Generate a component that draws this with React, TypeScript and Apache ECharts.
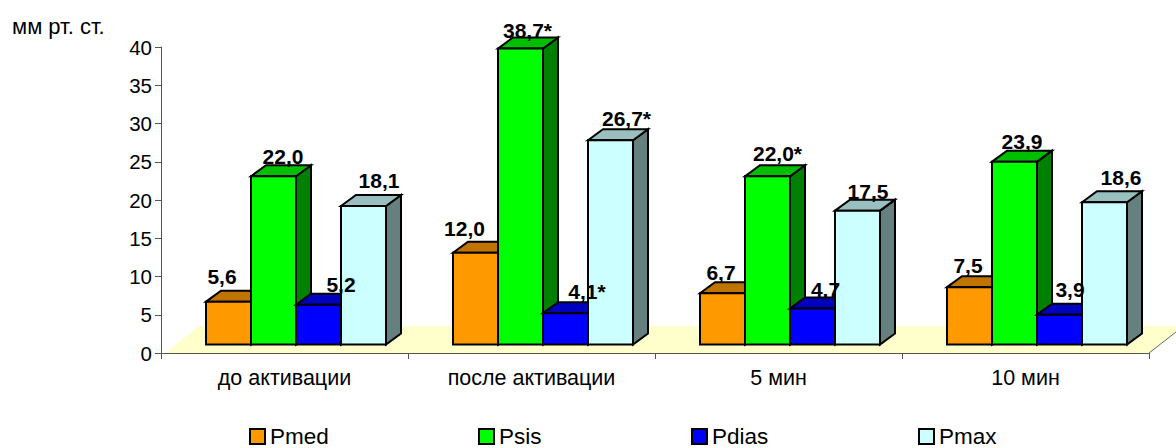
import React, { useEffect, useRef } from "react";
import * as echarts from "echarts";

const categories = ["до активации", "после активации", "5 мин", "10 мин"];
const yTicks = { min: 0, max: 40, interval: 5 };
const unitLabel = "мм рт. ст.";
const pmed = [5.6, 12.0, 6.7, 7.5];
const psis = [22.0, 38.7, 22.0, 23.9];
const pdias = [5.2, 4.1, 4.7, 3.9];
const pmax = [18.1, 26.7, 17.5, 18.6];
const pmedLabels = ["5,6", "12,0", "6,7", "7,5"];
const psisLabels = ["22,0", "38,7*", "22,0*", "23,9"];
const pdiasLabels = ["5,2", "4,1*", "4,7", "3,9"];
const pmaxLabels = ["18,1", "26,7*", "17,5", "18,6"];

// manual label nudges relative to the bar's front-top centre
const pmedNudge = [[-6.5, -24], [-11, -23], [-1.5, -20], [-1.5, -21]];
const psisNudge = [[9.5, -19], [7, -17], [10, -22], [7.5, -19]];
const pdiasNudge = [[22.5, -19], [21.5, -21], [13, -18], [10.5, -23.7]];
const pmaxNudge = [[15.5, -25], [16, -21], [10.5, -18.6], [16.5, -24]];

const seriesDefs = [
  { name: "Pmed", values: pmed, labels: pmedLabels, nudge: pmedNudge, front: "#FF9900", top: "#BF7300", side: "#7F4C00", slot: 0, legendLeft: 249 },
  { name: "Psis", values: psis, labels: psisLabels, nudge: psisNudge, front: "#00FF00", top: "#00BF00", side: "#008000", slot: 1, legendLeft: 478 },
  { name: "Pdias", values: pdias, labels: pdiasLabels, nudge: pdiasNudge, front: "#0000FF", top: "#0000BF", side: "#000080", slot: 2, legendLeft: 691 },
  { name: "Pmax", values: pmax, labels: pmaxLabels, nudge: pmaxNudge, front: "#CCFFFF", top: "#99BFBF", side: "#668080", slot: 3, legendLeft: 918 },
];

const FONT = '"Liberation Sans", Arial, sans-serif';
const DEPTH_X = 15;
const DEPTH_Y = 11;
const BASE_LIFT = 8.5;
const LABEL_LIFT = 1;

function barRenderer(def: (typeof seriesDefs)[number]) {
  return (params: any, api: any) => {
    const idx = api.value(0);
    const val = api.value(1);
    const band = api.size([1, 0])[0];
    const barW = (band * 45) / 247;
    const centre = api.coord([idx, 0]);
    const x0 = centre[0] - band / 2 + barW * (1 + def.slot);
    const x1 = x0 + barW;
    const yBase = centre[1] - BASE_LIFT;
    const yTop = api.coord([idx, val])[1] - BASE_LIFT;
    const stroke = { stroke: "#000", lineWidth: 2, lineJoin: "miter" };
    const n = def.nudge[params.dataIndex];
    return {
      type: "group",
      children: [
        {
          type: "polygon",
          shape: { points: [[x1, yTop], [x1 + DEPTH_X, yTop - DEPTH_Y], [x1 + DEPTH_X, yBase - DEPTH_Y], [x1, yBase]] },
          style: { fill: def.side, ...stroke },
        },
        {
          type: "polygon",
          shape: { points: [[x0, yTop], [x0 + DEPTH_X, yTop - DEPTH_Y], [x1 + DEPTH_X, yTop - DEPTH_Y], [x1, yTop]] },
          style: { fill: def.top, ...stroke },
        },
        {
          type: "rect",
          shape: { x: x0, y: yTop, width: barW, height: yBase - yTop },
          style: { fill: def.front, ...stroke },
        },
        {
          type: "text",
          z2: 100,
          style: {
            text: def.labels[params.dataIndex],
            x: (x0 + x1) / 2 + n[0],
            y: yTop + n[1] - LABEL_LIFT,
            textAlign: "center",
            textVerticalAlign: "middle",
            font: `bold 21px ${FONT}`,
            fill: "#000",
          },
        },
      ],
    };
  };
}

function floorRenderer(params: any, api: any) {
  const c = params.coordSys;
  const y0 = c.y + c.height;
  const x1 = c.x + c.width;
  return {
    type: "group",
    silent: true,
    children: [
      {
        type: "polygon",
        shape: { points: [[c.x + 4, y0], [c.x + 38, y0 - 27], [x1 + 27, y0 - 27], [x1 + 27, y0 - 21], [x1, y0]] },
        style: { fill: "#FFFFCC" },
      },
      {
        type: "line",
        shape: { x1: x1, y1: y0, x2: x1 + 27, y2: y0 - 21 },
        style: { stroke: "#666", lineWidth: 1 },
      },
    ],
  };
}

export default function App() {
  const ref = useRef<HTMLDivElement>(null);
  useEffect(() => {
    const chart = echarts.init(ref.current!, undefined, { renderer: "svg" });
    chart.setOption({
      animation: false,
      backgroundColor: "#fff",
      grid: { left: 161, right: 27, top: 47, height: 306, containLabel: false },
      xAxis: {
        type: "category",
        data: categories,
        axisLine: { lineStyle: { color: "#555", width: 1 } },
        axisTick: { show: true, length: 6, lineStyle: { color: "#555" } },
        axisLabel: { fontFamily: FONT, fontSize: 21.5, color: "#000", margin: 14 },
      },
      yAxis: {
        type: "value",
        min: yTicks.min,
        max: yTicks.max,
        interval: yTicks.interval,
        splitLine: { show: false },
        axisLine: { show: true, lineStyle: { color: "#555", width: 1 } },
        axisTick: { show: true, length: 6, lineStyle: { color: "#555" } },
        axisLabel: { fontFamily: FONT, fontSize: 20.5, color: "#000", margin: 9 },
      },
      legend: seriesDefs.map((d) => ({
        data: [d.name],
        left: d.legendLeft,
        top: 425,
        padding: 0,
        itemWidth: 15,
        itemHeight: 15,
        itemGap: 0,
        icon: "rect",
        selectedMode: false,
        itemStyle: { color: d.front, borderColor: "#000", borderWidth: 2 },
        textStyle: { fontFamily: FONT, fontSize: 22.5, color: "#000" },
      })),
      graphic: [
        {
          type: "text",
          left: 12,
          top: 15,
          style: { text: unitLabel, font: `22px ${FONT}`, fill: "#000" },
        },
      ],
      series: [
        {
          type: "custom",
          name: "floor",
          data: [[0, 0]],
          encode: { x: 0, y: 1 },
          renderItem: floorRenderer,
          silent: true,
          clip: false,
          z: 1,
        },
        ...seriesDefs.map((d) => ({
          type: "custom",
          name: d.name,
          data: d.values.map((v, i) => [i, v]),
          encode: { x: 0, y: 1 },
          renderItem: barRenderer(d),
          itemStyle: { color: d.front },
          clip: false,
          z: 3,
        })),
      ],
    });
    return () => chart.dispose();
  }, []);
  return <div ref={ref} style={{ position: "fixed", left: 0, top: 0, width: 1176, height: 448 }} />;
}
